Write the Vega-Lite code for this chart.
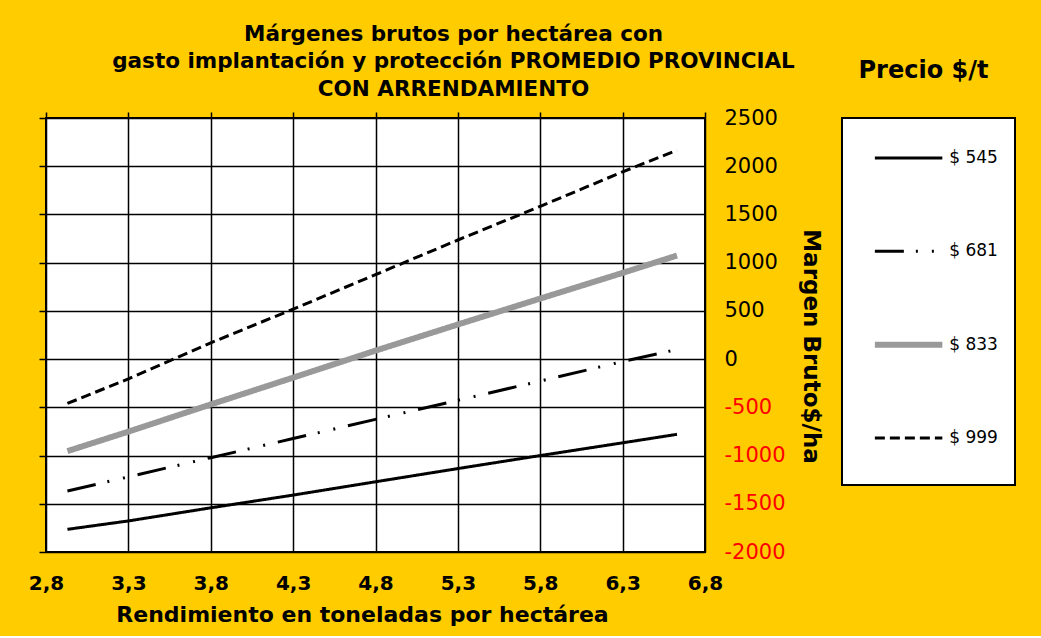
{
  "$schema": "https://vega.github.io/schema/vega-lite/v6.json",
  "background": "#FFCC00",
  "padding": {"left": 27, "top": 22, "right": 26, "bottom": 10},
  "bounds": "flush",
  "spacing": 137,
  "datasets": {
    "margenes": [
      {"rend": 2.93, "margen": -1765, "precio": "$ 545"},
      {"rend": 3.3, "margen": -1678, "precio": "$ 545"},
      {"rend": 3.8, "margen": -1542, "precio": "$ 545"},
      {"rend": 4.3, "margen": -1410, "precio": "$ 545"},
      {"rend": 4.8, "margen": -1272, "precio": "$ 545"},
      {"rend": 5.3, "margen": -1135, "precio": "$ 545"},
      {"rend": 5.8, "margen": -1000, "precio": "$ 545"},
      {"rend": 6.3, "margen": -868, "precio": "$ 545"},
      {"rend": 6.63, "margen": -780, "precio": "$ 545"},
      {"rend": 2.93, "margen": -1368, "precio": "$ 681"},
      {"rend": 3.3, "margen": -1221, "precio": "$ 681"},
      {"rend": 3.8, "margen": -1022, "precio": "$ 681"},
      {"rend": 4.3, "margen": -824, "precio": "$ 681"},
      {"rend": 4.8, "margen": -625, "precio": "$ 681"},
      {"rend": 5.3, "margen": -427, "precio": "$ 681"},
      {"rend": 5.8, "margen": -228, "precio": "$ 681"},
      {"rend": 6.3, "margen": -25, "precio": "$ 681"},
      {"rend": 6.63, "margen": 100, "precio": "$ 681"},
      {"rend": 2.93, "margen": -954, "precio": "$ 833"},
      {"rend": 3.3, "margen": -752, "precio": "$ 833"},
      {"rend": 3.8, "margen": -470, "precio": "$ 833"},
      {"rend": 4.3, "margen": -192, "precio": "$ 833"},
      {"rend": 4.8, "margen": 88, "precio": "$ 833"},
      {"rend": 5.3, "margen": 359, "precio": "$ 833"},
      {"rend": 5.8, "margen": 628, "precio": "$ 833"},
      {"rend": 6.3, "margen": 894, "precio": "$ 833"},
      {"rend": 6.63, "margen": 1074, "precio": "$ 833"},
      {"rend": 2.93, "margen": -460, "precio": "$ 999"},
      {"rend": 3.3, "margen": -205, "precio": "$ 999"},
      {"rend": 3.8, "margen": 169, "precio": "$ 999"},
      {"rend": 4.3, "margen": 518, "precio": "$ 999"},
      {"rend": 4.8, "margen": 876, "precio": "$ 999"},
      {"rend": 5.3, "margen": 1235, "precio": "$ 999"},
      {"rend": 5.8, "margen": 1584, "precio": "$ 999"},
      {"rend": 6.3, "margen": 1942, "precio": "$ 999"},
      {"rend": 6.63, "margen": 2165, "precio": "$ 999"}
    ],
    "leyenda": [
      {"precio": "$ 545"},
      {"precio": "$ 681"},
      {"precio": "$ 833"},
      {"precio": "$ 999"}
    ]
  },
  "hconcat": [
    {
      "width": 659,
      "height": 434,
      "title": {
        "text": ["Márgenes brutos por hectárea con", "gasto implantación y protección PROMEDIO  PROVINCIAL", "CON ARRENDAMIENTO"],
        "fontSize": 21.5,
        "fontWeight": "bold",
        "lineHeight": 27.5,
        "anchor": "middle",
        "dx": 78,
        "offset": 7,
        "color": "#000000"
      },
      "data": {"name": "margenes"},
      "layer": [
        {
          "mark": {"type": "line", "strokeOpacity": 0},
          "encoding": {
            "x": {
              "field": "rend", "type": "quantitative",
              "scale": {"domain": [2.8, 6.8], "nice": false, "zero": false},
              "axis": {"orient": "top", "values": [2.8, 3.3, 3.8, 4.3, 4.8, 5.3, 5.8, 6.3, 6.8], "labels": false, "ticks": true, "tickSize": 6, "tickColor": "#000000", "tickWidth": 1.5, "domain": false, "grid": false, "title": null}
            },
            "y": {
              "field": "margen", "type": "quantitative",
              "scale": {"domain": [-2000, 2500], "nice": false, "zero": false},
              "axis": {"orient": "left", "values": [-2000, -1500, -1000, -500, 0, 500, 1000, 1500, 2000, 2500], "labels": false, "ticks": true, "tickSize": 7, "tickColor": "#000000", "tickWidth": 1.5, "domain": false, "grid": false, "title": null}
            }
          }
        },
        {
          "mark": {"type": "line"},
          "encoding": {
            "x": {
              "field": "rend", "type": "quantitative",
              "axis": {
                "orient": "bottom",
                "values": [2.8, 3.3, 3.8, 4.3, 4.8, 5.3, 5.8, 6.3, 6.8],
                "labelExpr": "replace(format(datum.value, '.1f'), '.', ',')",
                "labelFlush": false,
                "labelFontSize": 20, "labelFontWeight": "bold", "labelColor": "#000000",
                "labelPadding": 21, "ticks": false, "tickSize": 0, "domain": false,
                "grid": true, "gridColor": "#000000", "gridWidth": 1.5,
                "title": "Rendimiento en toneladas por hectárea",
                "titleFontSize": 22, "titleFontWeight": "bold", "titleColor": "#000000", "titlePadding": 11,
                "titleX": 316
              }
            },
            "y": {
              "field": "margen", "type": "quantitative",
              "axis": {
                "orient": "right",
                "values": [-2000, -1500, -1000, -500, 0, 500, 1000, 1500, 2000, 2500],
                "labelExpr": "'' + datum.value",
                "labelFlush": false,
                "labelFontSize": 21, "labelFontWeight": "normal",
                "labelColor": {"condition": {"test": "datum.value < 0", "value": "#FF0000"}, "value": "#000000"},
                "labelPadding": 19, "ticks": false, "tickSize": 0, "domain": false,
                "grid": true, "gridColor": "#000000", "gridWidth": 1.5,
                "title": "Margen Bruto$/ha",
                "titleFontSize": 23, "titleFontWeight": "bold", "titleColor": "#000000", "titlePadding": 13,
                "titleY": 228
              }
            },
            "color": {"field": "precio", "type": "nominal", "scale": {"domain": ["$ 545", "$ 681", "$ 833", "$ 999"], "range": ["#000000", "#000000", "#999999", "#000000"]}, "legend": null},
            "strokeDash": {"field": "precio", "type": "nominal", "scale": {"domain": ["$ 545", "$ 681", "$ 833", "$ 999"], "range": [[1, 0], [29, 12, 2, 14, 2, 13], [1, 0], [10, 5]]}, "legend": null},
            "strokeWidth": {"field": "precio", "type": "ordinal", "scale": {"type": "ordinal", "domain": ["$ 545", "$ 681", "$ 833", "$ 999"], "range": [3, 3, 6, 3]}, "legend": null}
          }
        }
      ],
      "resolve": {"axis": {"x": "independent", "y": "independent"}}
    },
    {
      "width": 173,
      "height": 367,
      "title": {
        "text": "Precio $/t",
        "fontSize": 24,
        "fontWeight": "bold",
        "anchor": "middle",
        "dx": -5,
        "offset": 35,
        "color": "#000000"
      },
      "data": {"name": "leyenda"},
      "layer": [
        {
          "mark": {"type": "rule"},
          "encoding": {
            "x": {"datum": 0.19, "type": "quantitative", "scale": {"domain": [0, 1], "nice": false}, "axis": null},
            "x2": {"datum": 0.58},
            "y": {"field": "precio", "type": "ordinal", "sort": ["$ 545", "$ 681", "$ 833", "$ 999"], "scale": {"type": "point", "padding": 0.467, "align": 0.46}, "axis": null},
            "color": {"field": "precio", "type": "nominal", "scale": {"domain": ["$ 545", "$ 681", "$ 833", "$ 999"], "range": ["#000000", "#000000", "#999999", "#000000"]}, "legend": null},
            "strokeDash": {"field": "precio", "type": "nominal", "scale": {"domain": ["$ 545", "$ 681", "$ 833", "$ 999"], "range": [[1, 0], [29, 12, 2, 14, 2, 13], [1, 0], [10, 5]]}, "legend": null},
            "strokeWidth": {"field": "precio", "type": "ordinal", "scale": {"type": "ordinal", "domain": ["$ 545", "$ 681", "$ 833", "$ 999"], "range": [3, 3, 6, 3]}, "legend": null}
          }
        },
        {
          "mark": {"type": "text", "align": "left", "baseline": "middle", "fontSize": 17, "color": "#000000"},
          "encoding": {
            "x": {"datum": 0.62, "type": "quantitative"},
            "y": {"field": "precio", "type": "ordinal", "sort": ["$ 545", "$ 681", "$ 833", "$ 999"], "scale": {"type": "point", "padding": 0.467, "align": 0.46}},
            "text": {"field": "precio"}
          }
        }
      ]
    }
  ],
  "config": {
    "font": "DejaVu Sans",
    "view": {"fill": "#FFFFFF", "stroke": "#000000", "strokeWidth": 2},
    "axis": {"labelFont": "DejaVu Sans", "titleFont": "DejaVu Sans"},
    "title": {"font": "DejaVu Sans"},
    "text": {"font": "DejaVu Sans"}
  }
}
